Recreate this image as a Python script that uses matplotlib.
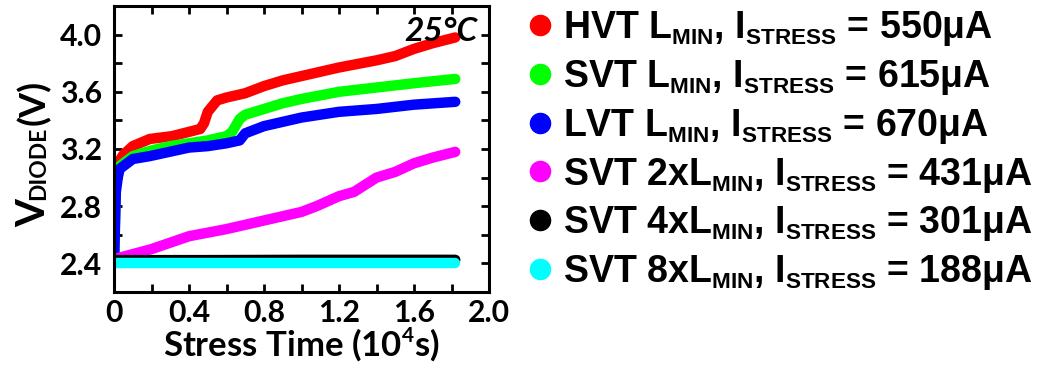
import matplotlib
matplotlib.use("Agg")
import matplotlib.pyplot as plt
from matplotlib.lines import Line2D
try:
    import matplotlib._mathtext as _mt
    _mt.SHRINK_FACTOR = 0.6
except Exception:
    pass

plt.rcParams['font.family'] = ['Lato', 'DejaVu Sans']
plt.rcParams['font.weight'] = 'bold'
plt.rcParams['axes.labelweight'] = 'bold'
plt.rcParams['xtick.labelsize'] = 22
plt.rcParams['ytick.labelsize'] = 22
plt.rcParams['mathtext.fontset'] = 'custom'
plt.rcParams['mathtext.rm'] = 'Liberation Sans:bold'
plt.rcParams['mathtext.sf'] = 'Lato:bold'
plt.rcParams['mathtext.it'] = 'Liberation Sans:bold'
plt.rcParams['mathtext.bf'] = 'Liberation Sans:bold'

# ---- data (stress time in 1e4 s, diode voltage in V) ----
t_hvt = [0.0, 0.005, 0.02, 0.05, 0.1, 0.19, 0.31, 0.4, 0.46, 0.48, 0.5, 0.55, 0.6, 0.7, 0.8, 0.9, 1.0, 1.2, 1.4, 1.5, 1.6, 1.7, 1.82]
v_hvt = [2.4, 3.0, 3.1, 3.16, 3.22, 3.27, 3.29, 3.32, 3.34, 3.38, 3.46, 3.54, 3.56, 3.59, 3.64, 3.68, 3.71, 3.77, 3.82, 3.85, 3.90, 3.94, 3.98]

t_svt = [0.0, 0.01, 0.03, 0.1, 0.2, 0.3, 0.4, 0.5, 0.6, 0.63, 0.67, 0.7, 0.8, 0.9, 1.0, 1.2, 1.4, 1.6, 1.82]
v_svt = [2.4, 2.95, 3.08, 3.15, 3.19, 3.22, 3.24, 3.26, 3.29, 3.32, 3.41, 3.44, 3.48, 3.52, 3.55, 3.60, 3.63, 3.66, 3.69]

t_lvt = [0.0, 0.01, 0.02, 0.03, 0.1, 0.19, 0.4, 0.5, 0.6, 0.67, 0.7, 0.8, 1.0, 1.2, 1.4, 1.6, 1.82]
v_lvt = [2.4, 2.9, 3.0, 3.06, 3.13, 3.15, 3.21, 3.22, 3.24, 3.26, 3.31, 3.36, 3.42, 3.46, 3.48, 3.51, 3.53]

t_2x = [0.0, 0.2, 0.4, 0.6, 0.8, 1.0, 1.08, 1.2, 1.28, 1.4, 1.5, 1.6, 1.7, 1.82]
v_2x = [2.43, 2.5, 2.59, 2.64, 2.70, 2.76, 2.80, 2.87, 2.90, 3.0, 3.04, 3.10, 3.14, 3.18]

t_4x = [0.0, 0.5, 1.0, 1.5, 1.82]
v_4x = [2.423, 2.423, 2.425, 2.425, 2.425]

t_8x = [0.0, 0.5, 1.0, 1.5, 1.82]
v_8x = [2.40, 2.40, 2.40, 2.40, 2.40]

x_ticks = [0, 0.4, 0.8, 1.2, 1.6, 2.0]
x_ticklabels = ['0', '0.4', '0.8', '1.2', '1.6', '2.0']
x_minor = [0.2, 0.6, 1.0, 1.4, 1.8]
y_ticks = [2.4, 2.8, 3.2, 3.6, 4.0]
y_ticklabels = ['2.4', '2.8', '3.2', '3.6', '4.0']
y_minor = [2.6, 3.0, 3.4, 3.8]

labels = [
    r"HVT L$_{\mathrm{MIN}}$, I$_{\mathrm{STRESS}}$ = 550μA",
    r"SVT L$_{\mathrm{MIN}}$, I$_{\mathrm{STRESS}}$ = 615μA",
    r"LVT L$_{\mathrm{MIN}}$, I$_{\mathrm{STRESS}}$ = 670μA",
    r"SVT 2xL$_{\mathrm{MIN}}$, I$_{\mathrm{STRESS}}$ = 431μA",
    r"SVT 4xL$_{\mathrm{MIN}}$, I$_{\mathrm{STRESS}}$ = 301μA",
    r"SVT 8xL$_{\mathrm{MIN}}$, I$_{\mathrm{STRESS}}$ = 188μA",
]
colors = ['#ff0000', '#00ff00', '#0000ff', '#ff00ff', '#000000', '#00ffff']
series = [(t_hvt, v_hvt), (t_svt, v_svt), (t_lvt, v_lvt), (t_2x, v_2x), (t_4x, v_4x), (t_8x, v_8x)]

W, H = 1054, 372
fig = plt.figure(figsize=(W / 100, H / 100), dpi=100)
ax = fig.add_axes([114 / W, 80 / H, 375 / W, 286 / H])

for (t, v), c in zip(series, colors):
    ax.plot(t, v, color=c, lw=7.5, solid_capstyle='round', solid_joinstyle='round')

ax.set_xlim(0, 2.0)
ax.set_ylim(2.2, 4.2)
tickfont = dict(fontsize=22, fontweight='bold', fontfamily='Lato')
ax.set_xticks(x_minor, minor=True)
ax.set_yticks(y_minor, minor=True)
ax.set_xticks(x_ticks, x_ticklabels, **tickfont)
ax.set_yticks(y_ticks, y_ticklabels, **tickfont)
ax.tick_params(which='both', direction='in', top=True, right=True, length=6, width=2)
ax.tick_params(axis='x', which='major', pad=5, labelsize=22)
ax.tick_params(axis='y', which='major', pad=8.5, labelsize=22)
for s in ax.spines.values():
    s.set_linewidth(2.2)

ax.set_xlabel(r"Stress Time (10$^{\mathsf{4}}$s)", fontsize=25, fontweight='bold', labelpad=0)

# y-axis label built from pieces (small subscript sitting on the baseline)
ylab_x = 45
fig.text(ylab_x / W, 1 - 227 / H, "V", fontsize=29, fontweight='bold', rotation=90,
         rotation_mode='anchor', ha='left', va='baseline')
fig.text(ylab_x / W, 1 - 200 / H, "DIODE", fontsize=16.5, fontweight='bold', rotation=90,
         rotation_mode='anchor', ha='left', va='baseline')
fig.text(ylab_x / W, 1 - 125 / H, "(V)", fontsize=26, fontweight='bold', rotation=90,
         rotation_mode='anchor', ha='left', va='baseline')

ax.text(1.94, 4.125, "25°C", fontweight='bold', fontstyle='italic',
        fontsize=24, ha='right', va='top')

handles = [Line2D([], [], ls='none', marker='o', ms=14.5, color=c) for c in colors]
fig.legend(handles, labels, loc='upper left', bbox_to_anchor=(529 / W, 0.975),
           frameon=False, prop={'family': 'Liberation Sans', 'weight': 'bold', 'size': 27},
           handlelength=0.6, handletextpad=0.3, labelspacing=0.26, borderaxespad=0.0,
           borderpad=0.0)

# make sure the tick labels come out at the reference size ("4.0" about 42 px wide)
fig.canvas.draw()
renderer = fig.canvas.get_renderer()
ref_lab = [l for l in ax.get_yticklabels() if l.get_text() == '4.0']
if ref_lab:
    w = ref_lab[0].get_window_extent(renderer).width
    if w > 5:
        fs = max(18.0, min(30.0, 22.0 * 42.0 / w))
        ax.tick_params(axis='both', which='major', labelsize=fs)
        for lab in ax.get_xticklabels() + ax.get_yticklabels():
            lab.set_fontsize(fs)
            lab.set_fontweight('bold')
            lab.set_fontfamily('Lato')

fig.savefig("out.png", dpi=100)
